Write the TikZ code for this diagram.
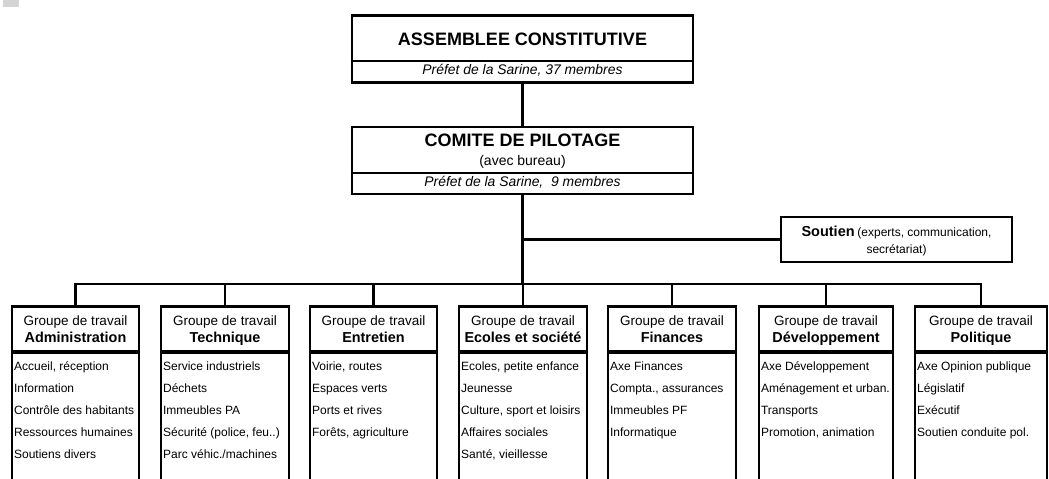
\documentclass[tikz,border=0pt]{standalone}
\usepackage{fontspec}
\setmainfont{Liberation Sans}
\tikzset{
  box/.style={draw, line width=2.2pt, inner sep=0pt, fill=white},
  conn/.style={line width=2.2pt},
  divline/.style={line width=1.6pt},
  bigtitle/.style={inner sep=0pt, font=\fontsize{18}{20}\selectfont\bfseries},
  subtxt/.style={inner sep=0pt, font=\fontsize{14}{16}\selectfont},
  ital/.style={inner sep=0pt, font=\fontsize{13.9}{16}\selectfont\itshape},
  ghead/.style={inner sep=0pt, font=\fontsize{13.5}{16}\selectfont},
  gtitle/.style={inner sep=0pt, font=\fontsize{14.4}{16}\selectfont\bfseries},
  gitem/.style={inner sep=0pt, font=\fontsize{12}{14}\selectfont},
  gbox/.style={box, minimum height=45pt},
  gbody/.style={box, minimum height=150pt},
}
\newcommand{\wgroup}[5]{%
  \node[gbody, minimum width=#3pt, anchor=north] (#1b) at (#2,351.5) {};
  \node[gbox, minimum width=#3pt] (#1) at (#2,329) {};
  \node[ghead, anchor=base] (#1t1) at (#2,325) {Groupe de travail};
  \node[gtitle, anchor=base] (#1t2) at (#2,342.5) {#4};
  \foreach \itm [count=\i] in {#5} {
    \node[gitem, anchor=base west] (#1i\i) at ([shift={(3,{19+22*(\i-1)})}]#1b.north west) {\itm};
  }
  \draw[conn] (#1.north) -- (#1.north |- hub);
}
\begin{document}
\begin{tikzpicture}[x=1pt,y=-1pt]
\useasboundingbox (0,0) rectangle (1049,479);
\clip (0,0) rectangle (1049,479);
\fill[white] (0,0) rectangle (1049,479);
\node[fill=black!17, inner sep=0pt, minimum width=16pt, minimum height=7.3pt] (corner) at (11.3,3.65) {};

% Assemblee constitutive
\node[box, minimum width=341pt, minimum height=67pt] (asm) at (522.5,49) {};
\coordinate (d1) at (0,61);
\draw[divline] (asm.west |- d1) -- (asm.east |- d1);
\node[bigtitle, anchor=base] (asmT) at (522.5,45) {ASSEMBLEE CONSTITUTIVE};
\node[ital, anchor=base] (asmS) at (522.5,74.5) {Préfet de la Sarine, 37 membres};

% Comite de pilotage
\node[box, minimum width=341pt, minimum height=67pt] (com) at (522.5,160.5) {};
\coordinate (d2) at (0,173);
\draw[divline] (com.west |- d2) -- (com.east |- d2);
\node[bigtitle, anchor=base] (comT) at (522.5,146.5) {COMITE DE PILOTAGE};
\node[subtxt, anchor=base] (comA) at (522.5,165.5) {(avec bureau)};
\node[ital, anchor=base] (comS) at (522.5,186.5) {Préfet de la Sarine,\ \ 9 membres};

\draw[conn] (asm.south) -- (com.north);

\coordinate (hub) at (522.5,284);
\draw[conn] (com.south) -- (hub);

% Soutien
\node[box, minimum width=231pt, minimum height=45pt] (sout) at (896.5,239.5) {};
\node[inner sep=0pt, anchor=base] (soutT) at (896.5,236) {{\fontsize{14.5}{16}\selectfont\bfseries Soutien} {\fontsize{12}{14}\selectfont (experts, communication,}};
\node[gitem, anchor=base] (soutS) at (896.5,253) {secrétariat)};
\coordinate (br) at (hub |- sout.west);
\draw[conn] (br) -- (sout.west);

% Groups
\wgroup{gA}{75.5}{127}{Administration}{{Accueil, réception},Information,Contrôle des habitants,Ressources humaines,Soutiens divers}
\wgroup{gB}{225}{128}{Technique}{Service industriels,Déchets,Immeubles PA,{Sécurité (police, feu..)},Parc véhic./machines}
\wgroup{gC}{373.5}{127}{Entretien}{{Voirie, routes},Espaces verts,Ports et rives,{Forêts, agriculture}}
\wgroup{gD}{523}{128}{Ecoles et société}{{Ecoles, petite enfance},Jeunesse,{Culture, sport et loisirs},Affaires sociales,{Santé, vieillesse}}
\wgroup{gE}{672}{128}{Finances}{Axe Finances,{Compta., assurances},Immeubles PF,Informatique}
\wgroup{gF}{826}{134}{Développement}{Axe Développement,Aménagement et urban.,Transports,{Promotion, animation}}
\wgroup{gG}{981}{132}{Politique}{Axe Opinion publique,Législatif,Exécutif,Soutien conduite pol.}

\draw[conn] (gA.north) |- (gG.north |- hub) -- (gG.north);
\end{tikzpicture}
\end{document}
